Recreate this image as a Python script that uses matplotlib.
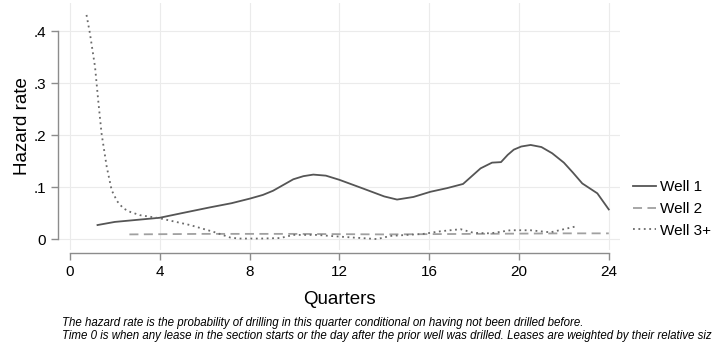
import numpy as np
import matplotlib
matplotlib.use("Agg")
import matplotlib.pyplot as plt

plt.rcParams['font.family'] = ['Liberation Sans', 'DejaVu Sans']

# hazard rates (quarters, rate)
well1_q = [1.23, 2.0, 3.0, 4.0, 5.0, 6.24, 7.2, 8.03, 8.6, 9.05, 9.5, 9.95, 10.4, 10.84, 11.4, 12.0,
           13.07, 14.0, 14.57, 15.3, 16.06, 16.8, 17.51, 17.9, 18.29, 18.8, 19.2, 19.5, 19.77, 20.1,
           20.52, 21.0, 21.48, 22.0, 22.4, 22.82, 23.49, 24.0]
well1_r = [0.027, 0.033, 0.037, 0.041, 0.050, 0.061, 0.069, 0.078, 0.085, 0.093, 0.104, 0.115, 0.121,
           0.124, 0.122, 0.114, 0.097, 0.082, 0.076, 0.081, 0.091, 0.098, 0.106, 0.121, 0.136, 0.147,
           0.148, 0.162, 0.172, 0.178, 0.181, 0.177, 0.165, 0.147, 0.128, 0.107, 0.088, 0.057]

well2_q = [2.65, 6.0, 10.0, 14.0, 18.0, 22.0, 24.0]
well2_r = [0.009, 0.010, 0.010, 0.009, 0.010, 0.011, 0.011]

well3_q = [0.74, 0.89, 1.12, 1.26, 1.41, 1.64, 1.86, 2.1, 2.38, 2.7, 3.12, 4.0, 5.35, 6.39, 7.14, 7.51,
           8.5, 9.37, 9.95, 11.0, 11.6, 12.6, 13.68, 14.27, 15.0, 15.75, 16.5, 17.4, 17.98, 18.73,
           19.62, 20.5, 21.4, 22.0, 22.5]
well3_r = [0.431, 0.396, 0.331, 0.267, 0.203, 0.139, 0.094, 0.073, 0.059, 0.052, 0.046, 0.040, 0.027,
           0.014, 0.003, 0.001, 0.001, 0.002, 0.008, 0.008, 0.006, 0.003, 0.000, 0.006, 0.008, 0.010,
           0.015, 0.019, 0.012, 0.011, 0.017, 0.017, 0.013, 0.019, 0.024]

xticks = [0, 4, 8, 12, 16, 20, 24]
yticks = [0, 0.1, 0.2, 0.3, 0.4]
ytick_labels = ['0', '.1', '.2', '.3', '.4']

notes = ("The hazard rate is the probability of drilling in this quarter conditional on having not been drilled before.\n"
         "Time 0 is when any lease in the section starts or the day after the prior well was drilled. "
         "Leases are weighted by their relative size.")

W, H = 712, 347
fig = plt.figure(figsize=(W / 100, H / 100), dpi=100)
ax = fig.add_axes([58 / W, 1 - 250 / H, (620 - 58) / W, (250 - 3) / H])

ax.plot(well1_q, well1_r, color='#555555', lw=1.3, label='Well 1')
ax.plot(well2_q, well2_r, color='#a0a0a0', lw=1.3, ls=(0, (5, 3)), label='Well 2')
ax.plot(well3_q, well3_r, color='#6a6a6a', lw=1.3, ls=(0, (1, 2)), label='Well 3+')

ax.set_xlim(-0.53, 24.5)
ax.set_ylim(-0.021, 0.454)
ax.set_xticks(xticks)
ax.set_yticks(yticks)
ax.set_yticklabels(ytick_labels)
ax.grid(True, color='#ebebeb', lw=0.8)
ax.set_axisbelow(True)

for s in ['top', 'right']:
    ax.spines[s].set_visible(False)
ax.spines['left'].set_bounds(0, 0.4)
ax.spines['bottom'].set_bounds(0, 24)
ax.spines['bottom'].set_position(('outward', 2))
for s in ['left', 'bottom']:
    ax.spines[s].set_color('#8c8c8c')
    ax.spines[s].set_linewidth(1.0)
ax.tick_params(axis='both', colors='#8c8c8c', labelcolor='black', labelsize=11, length=5, width=1.0)

ax.set_xlabel('Quarters', fontsize=13.5, labelpad=9)
ax.set_ylabel('Hazard rate', fontsize=13.5, labelpad=2)

leg = ax.legend(loc='center left', bbox_to_anchor=(633 / W, 1 - 209 / H), bbox_transform=fig.transFigure,
                frameon=False, fontsize=11, handlelength=1.5, handletextpad=0.3, labelspacing=0.5,
                borderpad=0, borderaxespad=0)

fig.text(62 / W, 1 - 329.5 / H, notes, fontsize=8.3, style='italic', va='center', linespacing=1.1)

fig.savefig('out.png', dpi=100)
